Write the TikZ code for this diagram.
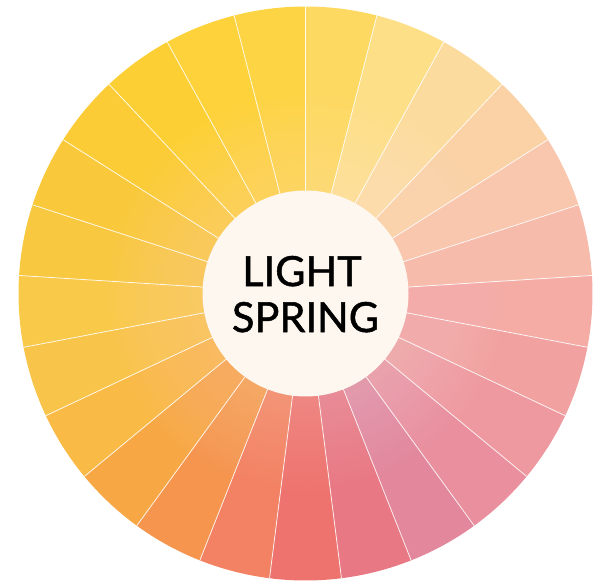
\documentclass[tikz,border=0pt]{standalone}
\usepackage{fontspec}
\setmainfont{Lato}[FakeBold=1.2]
\definecolor{s1}{HTML}{FDD962}
\definecolor{s2}{HTML}{FDDF88}
\definecolor{s3}{HTML}{FCDC9E}
\definecolor{s4}{HTML}{FAD2A6}
\definecolor{s5}{HTML}{F8C7AE}
\definecolor{s6}{HTML}{F6BBAA}
\definecolor{s7}{HTML}{F4ACA5}
\definecolor{s8}{HTML}{F1A2A0}
\definecolor{s9}{HTML}{EE999F}
\definecolor{s10}{HTML}{E98F9E}
\definecolor{s11}{HTML}{E2879C}
\definecolor{s12}{HTML}{E87883}
\definecolor{s13}{HTML}{EE736E}
\definecolor{s14}{HTML}{F38163}
\definecolor{s15}{HTML}{F5954E}
\definecolor{s16}{HTML}{F7A845}
\definecolor{s17}{HTML}{F9BA46}
\definecolor{s18}{HTML}{F9C44A}
\definecolor{s19}{HTML}{F9C94A}
\definecolor{s20}{HTML}{F8C841}
\definecolor{s21}{HTML}{F9C93B}
\definecolor{s22}{HTML}{FBCC36}
\definecolor{s23}{HTML}{FCD034}
\definecolor{s24}{HTML}{FDD23A}
\definecolor{s25}{HTML}{FDD444}
\definecolor{cream}{HTML}{FDF7F0}
\tikzset{
  divider/.style={draw=white, line width=0.8pt, draw opacity=0.85},
  hub/.style={circle, fill=cream, minimum size=206pt, inner sep=0pt},
  label/.style={font=\fontsize{41.5}{46}\selectfont, text=black, inner sep=0pt, anchor=base}
}
\begin{document}
\begin{tikzpicture}[x=1pt,y=1pt]
\useasboundingbox (0,0) rectangle (604,-585);
\coordinate (C) at (305.5,-293.5);
\def\R{287}
% segments
\foreach \i in {1,...,25} {
  \pgfmathsetmacro\aa{90-14.4*(\i-1)}
  \pgfmathsetmacro\ab{90-14.4*\i}
  \fill[s\i] (C) -- ++(\aa:\R) arc[start angle=\aa, end angle=\ab, radius=\R] -- cycle;
}
% soft glow toward the hub
\foreach \k in {0,...,19} {
  \fill[white, opacity=0.012] (C) circle ({103+5*\k});
}
% dividers
\foreach \i in {1,...,25} {
  \pgfmathsetmacro\aa{90-14.4*(\i-1)}
  \draw[divider] (C) -- ++(\aa:\R);
}
\node[hub] (hub) at (C) {};
\node[label] (l1) at (302,-286) {LIGHT};
\node[label] (l2) at (305.5,-332) {SPRING};
\end{tikzpicture}
\end{document}
